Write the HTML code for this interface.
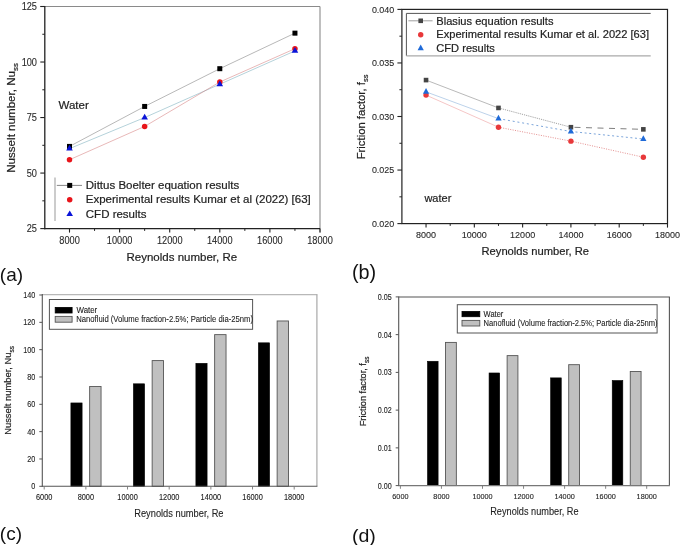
<!DOCTYPE html>
<html><head><meta charset="utf-8"><style>
html,body{margin:0;padding:0;background:#fff;}
body{width:685px;height:545px;overflow:hidden;}
svg{display:block;font-family:"Liberation Sans",sans-serif;filter:blur(0.4px);}
text{stroke:#222;stroke-width:0.2px;}
text.pl{stroke:none;}
text.sm{stroke-width:0.08px;}
text.md{stroke-width:0.1px;}
</style></head><body>
<svg width="685" height="545" viewBox="0 0 685 545" font-family="Liberation Sans, sans-serif">
<rect width="685" height="545" fill="#fff"/>
<line x1="40.30" y1="6.50" x2="320.00" y2="6.50" stroke="#8a8a8a" stroke-width="1.1" />
<line x1="320.00" y1="6.50" x2="320.00" y2="232.60" stroke="#8a8a8a" stroke-width="1.1" />
<polyline points="69.50,146.42 144.65,106.44 219.80,68.69 294.95,33.15" fill="none" stroke="#707070" stroke-width="0.5"/>
<polyline points="69.50,148.64 144.65,117.55 219.80,84.23 294.95,50.92" fill="none" stroke="#6aa4b4" stroke-width="0.5"/>
<polyline points="69.50,159.75 144.65,126.43 219.80,82.01 294.95,48.70" fill="none" stroke="#d07070" stroke-width="0.5"/>
<rect x="67.00" y="143.92" width="5.00" height="5.00" fill="#000" stroke="none" stroke-width="1"/>
<rect x="142.15" y="103.94" width="5.00" height="5.00" fill="#000" stroke="none" stroke-width="1"/>
<rect x="217.30" y="66.19" width="5.00" height="5.00" fill="#000" stroke="none" stroke-width="1"/>
<rect x="292.45" y="30.65" width="5.00" height="5.00" fill="#000" stroke="none" stroke-width="1"/>
<circle cx="69.50" cy="159.75" r="2.75" fill="#e8141a"/>
<circle cx="144.65" cy="126.43" r="2.75" fill="#e8141a"/>
<circle cx="219.80" cy="82.01" r="2.75" fill="#e8141a"/>
<circle cx="294.95" cy="48.70" r="2.75" fill="#e8141a"/>
<path d="M69.50,144.84 L72.80,150.54 L66.20,150.54 Z" fill="#0a14d8"/>
<path d="M144.65,113.75 L147.95,119.45 L141.35,119.45 Z" fill="#0a14d8"/>
<path d="M219.80,80.43 L223.10,86.13 L216.50,86.13 Z" fill="#0a14d8"/>
<path d="M294.95,47.12 L298.25,52.82 L291.65,52.82 Z" fill="#0a14d8"/>
<line x1="44.80" y1="6.00" x2="44.80" y2="229.20" stroke="#222" stroke-width="1.3" />
<line x1="44.20" y1="228.60" x2="320.00" y2="228.60" stroke="#222" stroke-width="1.3" />
<line x1="40.30" y1="228.60" x2="44.80" y2="228.60" stroke="#222" stroke-width="1.1" />
<text class="md" transform="translate(37.00,232.20) scale(0.94,1.03)" font-size="9.8" text-anchor="end" fill="#2a2a2a">25</text>
<line x1="40.30" y1="173.07" x2="44.80" y2="173.07" stroke="#222" stroke-width="1.1" />
<text class="md" transform="translate(37.00,176.67) scale(0.94,1.03)" font-size="9.8" text-anchor="end" fill="#2a2a2a">50</text>
<line x1="40.30" y1="117.55" x2="44.80" y2="117.55" stroke="#222" stroke-width="1.1" />
<text class="md" transform="translate(37.00,121.15) scale(0.94,1.03)" font-size="9.8" text-anchor="end" fill="#2a2a2a">75</text>
<line x1="40.30" y1="62.02" x2="44.80" y2="62.02" stroke="#222" stroke-width="1.1" />
<text class="md" transform="translate(37.00,65.62) scale(0.94,1.03)" font-size="9.8" text-anchor="end" fill="#2a2a2a">100</text>
<line x1="40.30" y1="6.50" x2="44.80" y2="6.50" stroke="#222" stroke-width="1.1" />
<text class="md" transform="translate(37.00,10.10) scale(0.94,1.03)" font-size="9.8" text-anchor="end" fill="#2a2a2a">125</text>
<line x1="42.30" y1="200.84" x2="44.80" y2="200.84" stroke="#222" stroke-width="1" />
<line x1="42.30" y1="145.31" x2="44.80" y2="145.31" stroke="#222" stroke-width="1" />
<line x1="42.30" y1="89.79" x2="44.80" y2="89.79" stroke="#222" stroke-width="1" />
<line x1="42.30" y1="34.26" x2="44.80" y2="34.26" stroke="#222" stroke-width="1" />
<line x1="69.50" y1="228.60" x2="69.50" y2="232.60" stroke="#222" stroke-width="1.1" />
<text class="md" transform="translate(69.50,243.70) scale(0.94,1.03)" font-size="9.8" text-anchor="middle" fill="#2a2a2a">8000</text>
<line x1="119.60" y1="228.60" x2="119.60" y2="232.60" stroke="#222" stroke-width="1.1" />
<text class="md" transform="translate(119.60,243.70) scale(0.94,1.03)" font-size="9.8" text-anchor="middle" fill="#2a2a2a">10000</text>
<line x1="169.70" y1="228.60" x2="169.70" y2="232.60" stroke="#222" stroke-width="1.1" />
<text class="md" transform="translate(169.70,243.70) scale(0.94,1.03)" font-size="9.8" text-anchor="middle" fill="#2a2a2a">12000</text>
<line x1="219.80" y1="228.60" x2="219.80" y2="232.60" stroke="#222" stroke-width="1.1" />
<text class="md" transform="translate(219.80,243.70) scale(0.94,1.03)" font-size="9.8" text-anchor="middle" fill="#2a2a2a">14000</text>
<line x1="269.90" y1="228.60" x2="269.90" y2="232.60" stroke="#222" stroke-width="1.1" />
<text class="md" transform="translate(269.90,243.70) scale(0.94,1.03)" font-size="9.8" text-anchor="middle" fill="#2a2a2a">16000</text>
<line x1="320.00" y1="228.60" x2="320.00" y2="232.60" stroke="#222" stroke-width="1.1" />
<text class="md" transform="translate(320.00,243.70) scale(0.94,1.03)" font-size="9.8" text-anchor="middle" fill="#2a2a2a">18000</text>
<line x1="94.55" y1="228.60" x2="94.55" y2="230.90" stroke="#222" stroke-width="1" />
<line x1="144.65" y1="228.60" x2="144.65" y2="230.90" stroke="#222" stroke-width="1" />
<line x1="194.75" y1="228.60" x2="194.75" y2="230.90" stroke="#222" stroke-width="1" />
<line x1="244.85" y1="228.60" x2="244.85" y2="230.90" stroke="#222" stroke-width="1" />
<line x1="294.95" y1="228.60" x2="294.95" y2="230.90" stroke="#222" stroke-width="1" />
<text transform="translate(126.50,261.00) scale(1.0,1.0)" font-size="11.5" text-anchor="start" fill="#222">Reynolds number, Re</text>
<text transform="translate(15.2,172.8) rotate(-90) scale(1,1.0)" font-size="11.6" fill="#222">Nusselt number, Nu<tspan font-size="7.8" dy="3">ss</tspan></text>
<text transform="translate(58.50,108.70) scale(1.0,1.0)" font-size="11.5" text-anchor="start" fill="#222">Water</text>
<line x1="55.00" y1="177.50" x2="55.00" y2="221.00" stroke="#aaa" stroke-width="1.2" />
<line x1="56.80" y1="185.40" x2="82.00" y2="185.40" stroke="#555" stroke-width="0.7" />
<rect x="67.20" y="182.90" width="5.00" height="5.00" fill="#000" stroke="none" stroke-width="1"/>
<circle cx="69.70" cy="199.70" r="2.75" fill="#e8141a"/>
<path d="M69.70,210.40 L73.00,216.10 L66.40,216.10 Z" fill="#0a14d8"/>
<text transform="translate(85.80,188.90) scale(1.0,1.0)" font-size="11.5" text-anchor="start" fill="#222">Dittus Boelter equation results</text>
<text transform="translate(85.80,203.20) scale(1.0,1.0)" font-size="11.5" text-anchor="start" fill="#222">Experimental results Kumar et al (2022) [63]</text>
<text transform="translate(85.80,217.60) scale(1.0,1.0)" font-size="11.5" text-anchor="start" fill="#222">CFD results</text>
<text class="pl" transform="translate(-0.20,280.60) scale(1.0,1.0)" font-size="19" text-anchor="start" fill="#111">(a)</text>
<line x1="426.04" y1="80.09" x2="498.48" y2="107.93" stroke="#8a8a8a" stroke-width="0.6"/>
<line x1="498.48" y1="107.93" x2="570.91" y2="127.21" stroke="#7a7a7a" stroke-width="0.7" stroke-dasharray="1.2,1"/>
<line x1="570.91" y1="127.21" x2="643.35" y2="129.35" stroke="#707070" stroke-width="0.9" stroke-dasharray="6,5.5" stroke-dashoffset="7.9"/>
<line x1="426.04" y1="91.87" x2="498.48" y2="118.64" stroke="#8fb4dc" stroke-width="0.6"/>
<line x1="498.48" y1="118.64" x2="570.91" y2="131.49" stroke="#5a8ed0" stroke-width="0.8" stroke-dasharray="2,2.8"/>
<line x1="570.91" y1="131.49" x2="643.35" y2="138.99" stroke="#5a8ed0" stroke-width="0.8" stroke-dasharray="2,2.6"/>
<line x1="426.04" y1="95.08" x2="498.48" y2="127.21" stroke="#eea0a0" stroke-width="0.6"/>
<line x1="498.48" y1="127.21" x2="570.91" y2="141.13" stroke="#d86060" stroke-width="0.7" stroke-dasharray="1,1.4"/>
<line x1="570.91" y1="141.13" x2="643.35" y2="157.20" stroke="#d86060" stroke-width="0.7" stroke-dasharray="1,1.4"/>
<rect x="423.74" y="77.79" width="4.60" height="4.60" fill="#444" stroke="none" stroke-width="1"/>
<rect x="496.18" y="105.63" width="4.60" height="4.60" fill="#444" stroke="none" stroke-width="1"/>
<rect x="568.62" y="124.91" width="4.60" height="4.60" fill="#444" stroke="none" stroke-width="1"/>
<rect x="641.05" y="127.05" width="4.60" height="4.60" fill="#444" stroke="none" stroke-width="1"/>
<circle cx="426.04" cy="95.08" r="2.7" fill="#e8383a"/>
<circle cx="498.48" cy="127.21" r="2.7" fill="#e8383a"/>
<circle cx="570.91" cy="141.13" r="2.7" fill="#e8383a"/>
<circle cx="643.35" cy="157.20" r="2.7" fill="#e8383a"/>
<path d="M426.04,88.07 L429.14,93.77 L422.94,93.77 Z" fill="#1f6ad8"/>
<path d="M498.48,114.84 L501.58,120.54 L495.38,120.54 Z" fill="#1f6ad8"/>
<path d="M570.91,127.69 L574.01,133.39 L567.81,133.39 Z" fill="#1f6ad8"/>
<path d="M643.35,135.19 L646.45,140.89 L640.25,140.89 Z" fill="#1f6ad8"/>
<rect x="401.9" y="9.4" width="265.6" height="214.2" fill="none" stroke="#222" stroke-width="1.2"/>
<line x1="397.40" y1="223.60" x2="401.90" y2="223.60" stroke="#222" stroke-width="1.1" />
<text class="md" transform="translate(394.20,226.70) scale(0.95,1.03)" font-size="9.4" text-anchor="end" fill="#2a2a2a">0.020</text>
<line x1="397.40" y1="170.05" x2="401.90" y2="170.05" stroke="#222" stroke-width="1.1" />
<text class="md" transform="translate(394.20,173.15) scale(0.95,1.03)" font-size="9.4" text-anchor="end" fill="#2a2a2a">0.025</text>
<line x1="397.40" y1="116.50" x2="401.90" y2="116.50" stroke="#222" stroke-width="1.1" />
<text class="md" transform="translate(394.20,119.60) scale(0.95,1.03)" font-size="9.4" text-anchor="end" fill="#2a2a2a">0.030</text>
<line x1="397.40" y1="62.95" x2="401.90" y2="62.95" stroke="#222" stroke-width="1.1" />
<text class="md" transform="translate(394.20,66.05) scale(0.95,1.03)" font-size="9.4" text-anchor="end" fill="#2a2a2a">0.035</text>
<line x1="397.40" y1="9.40" x2="401.90" y2="9.40" stroke="#222" stroke-width="1.1" />
<text class="md" transform="translate(394.20,12.50) scale(0.95,1.03)" font-size="9.4" text-anchor="end" fill="#2a2a2a">0.040</text>
<line x1="399.40" y1="196.83" x2="401.90" y2="196.83" stroke="#222" stroke-width="1" />
<line x1="399.40" y1="143.28" x2="401.90" y2="143.28" stroke="#222" stroke-width="1" />
<line x1="399.40" y1="89.72" x2="401.90" y2="89.72" stroke="#222" stroke-width="1" />
<line x1="399.40" y1="36.18" x2="401.90" y2="36.18" stroke="#222" stroke-width="1" />
<line x1="426.04" y1="223.60" x2="426.04" y2="227.60" stroke="#222" stroke-width="1.1" />
<text class="md" transform="translate(426.04,237.90) scale(0.96,1.03)" font-size="9.4" text-anchor="middle" fill="#2a2a2a">8000</text>
<line x1="474.33" y1="223.60" x2="474.33" y2="227.60" stroke="#222" stroke-width="1.1" />
<text class="md" transform="translate(474.33,237.90) scale(0.96,1.03)" font-size="9.4" text-anchor="middle" fill="#2a2a2a">10000</text>
<line x1="522.62" y1="223.60" x2="522.62" y2="227.60" stroke="#222" stroke-width="1.1" />
<text class="md" transform="translate(522.62,237.90) scale(0.96,1.03)" font-size="9.4" text-anchor="middle" fill="#2a2a2a">12000</text>
<line x1="570.91" y1="223.60" x2="570.91" y2="227.60" stroke="#222" stroke-width="1.1" />
<text class="md" transform="translate(570.91,237.90) scale(0.96,1.03)" font-size="9.4" text-anchor="middle" fill="#2a2a2a">14000</text>
<line x1="619.20" y1="223.60" x2="619.20" y2="227.60" stroke="#222" stroke-width="1.1" />
<text class="md" transform="translate(619.20,237.90) scale(0.96,1.03)" font-size="9.4" text-anchor="middle" fill="#2a2a2a">16000</text>
<line x1="667.49" y1="223.60" x2="667.49" y2="227.60" stroke="#222" stroke-width="1.1" />
<text class="md" transform="translate(667.49,237.90) scale(0.96,1.03)" font-size="9.4" text-anchor="middle" fill="#2a2a2a">18000</text>
<line x1="450.19" y1="223.60" x2="450.19" y2="225.90" stroke="#222" stroke-width="1" />
<line x1="498.48" y1="223.60" x2="498.48" y2="225.90" stroke="#222" stroke-width="1" />
<line x1="546.77" y1="223.60" x2="546.77" y2="225.90" stroke="#222" stroke-width="1" />
<line x1="595.06" y1="223.60" x2="595.06" y2="225.90" stroke="#222" stroke-width="1" />
<line x1="643.35" y1="223.60" x2="643.35" y2="225.90" stroke="#222" stroke-width="1" />
<text transform="translate(481.50,254.80) scale(1.0,1.0)" font-size="11.2" text-anchor="start" fill="#222">Reynolds number, Re</text>
<text transform="translate(365.2,159.3) rotate(-90) scale(1,1.0)" font-size="11.3" fill="#222">Friction factor, f<tspan font-size="7.6" dy="3">ss</tspan></text>
<text transform="translate(424.40,201.90) scale(1.0,1.0)" font-size="11" text-anchor="start" fill="#222">water</text>
<line x1="406.40" y1="13.40" x2="650.70" y2="13.40" stroke="#555" stroke-width="1" />
<line x1="406.40" y1="13.40" x2="406.40" y2="55.80" stroke="#555" stroke-width="1" />
<line x1="406.40" y1="55.80" x2="650.70" y2="55.80" stroke="#aaa" stroke-width="1.2" />
<line x1="408.40" y1="20.80" x2="432.60" y2="20.80" stroke="#888" stroke-width="0.8" />
<rect x="418.40" y="18.50" width="4.60" height="4.60" fill="#444" stroke="none" stroke-width="1"/>
<circle cx="420.70" cy="34.80" r="2.7" fill="#e8383a"/>
<path d="M420.70,44.57 L423.80,50.17 L417.60,50.17 Z" fill="#1f6ad8"/>
<text transform="translate(436.30,24.60) scale(1.0,1.0)" font-size="11.1" text-anchor="start" fill="#222">Blasius equation results</text>
<text transform="translate(436.30,38.20) scale(1.0,1.0)" font-size="11.1" text-anchor="start" fill="#222">Experimental results Kumar et al. 2022 [63]</text>
<text transform="translate(436.30,51.60) scale(1.0,1.0)" font-size="11.1" text-anchor="start" fill="#222">CFD results</text>
<text class="pl" transform="translate(351.90,278.60) scale(1.0,1.0)" font-size="19.8" text-anchor="start" fill="#111">(b)</text>
<line x1="42.30" y1="294.60" x2="317.40" y2="294.60" stroke="#b8b8b8" stroke-width="1.1" />
<line x1="316.90" y1="294.60" x2="316.90" y2="486.30" stroke="#a8a8a8" stroke-width="1.2" />
<rect x="70.90" y="402.95" width="11.20" height="83.35" fill="#000" stroke="#000" stroke-width="0.6"/>
<rect x="133.40" y="383.82" width="11.20" height="102.48" fill="#000" stroke="#000" stroke-width="0.6"/>
<rect x="195.89" y="363.32" width="11.20" height="122.98" fill="#000" stroke="#000" stroke-width="0.6"/>
<rect x="258.39" y="342.83" width="11.20" height="143.47" fill="#000" stroke="#000" stroke-width="0.6"/>
<rect x="89.65" y="386.55" width="11.40" height="99.75" fill="#c0c0c0" stroke="#555" stroke-width="0.9"/>
<rect x="152.15" y="360.59" width="11.40" height="125.71" fill="#c0c0c0" stroke="#555" stroke-width="0.9"/>
<rect x="214.64" y="334.63" width="11.40" height="151.67" fill="#c0c0c0" stroke="#555" stroke-width="0.9"/>
<rect x="277.14" y="320.97" width="11.40" height="165.33" fill="#c0c0c0" stroke="#555" stroke-width="0.9"/>
<line x1="42.30" y1="294.10" x2="42.30" y2="486.80" stroke="#555" stroke-width="1.1" />
<line x1="41.80" y1="486.30" x2="317.40" y2="486.30" stroke="#555" stroke-width="1.1" />
<line x1="39.30" y1="486.30" x2="42.30" y2="486.30" stroke="#555" stroke-width="1" />
<text class="md" transform="translate(35.30,489.40) scale(0.93,1.1)" font-size="7.8" text-anchor="end" fill="#222">0</text>
<line x1="39.30" y1="458.97" x2="42.30" y2="458.97" stroke="#555" stroke-width="1" />
<text class="md" transform="translate(35.30,462.07) scale(0.93,1.1)" font-size="7.8" text-anchor="end" fill="#222">20</text>
<line x1="39.30" y1="431.64" x2="42.30" y2="431.64" stroke="#555" stroke-width="1" />
<text class="md" transform="translate(35.30,434.74) scale(0.93,1.1)" font-size="7.8" text-anchor="end" fill="#222">40</text>
<line x1="39.30" y1="404.32" x2="42.30" y2="404.32" stroke="#555" stroke-width="1" />
<text class="md" transform="translate(35.30,407.42) scale(0.93,1.1)" font-size="7.8" text-anchor="end" fill="#222">60</text>
<line x1="39.30" y1="376.99" x2="42.30" y2="376.99" stroke="#555" stroke-width="1" />
<text class="md" transform="translate(35.30,380.09) scale(0.93,1.1)" font-size="7.8" text-anchor="end" fill="#222">80</text>
<line x1="39.30" y1="349.66" x2="42.30" y2="349.66" stroke="#555" stroke-width="1" />
<text class="md" transform="translate(35.30,352.76) scale(0.93,1.1)" font-size="7.8" text-anchor="end" fill="#222">100</text>
<line x1="39.30" y1="322.33" x2="42.30" y2="322.33" stroke="#555" stroke-width="1" />
<text class="md" transform="translate(35.30,325.43) scale(0.93,1.1)" font-size="7.8" text-anchor="end" fill="#222">120</text>
<line x1="39.30" y1="295.00" x2="42.30" y2="295.00" stroke="#555" stroke-width="1" />
<text class="md" transform="translate(35.30,298.10) scale(0.93,1.1)" font-size="7.8" text-anchor="end" fill="#222">140</text>
<line x1="44.20" y1="486.30" x2="44.20" y2="489.50" stroke="#777" stroke-width="0.9" />
<text class="md" transform="translate(44.20,499.80) scale(0.96,1.1)" font-size="7.7" text-anchor="middle" fill="#222">6000</text>
<line x1="85.87" y1="486.30" x2="85.87" y2="489.50" stroke="#777" stroke-width="0.9" />
<text class="md" transform="translate(85.87,499.80) scale(0.96,1.1)" font-size="7.7" text-anchor="middle" fill="#222">8000</text>
<line x1="127.53" y1="486.30" x2="127.53" y2="489.50" stroke="#777" stroke-width="0.9" />
<text class="md" transform="translate(127.53,499.80) scale(0.96,1.1)" font-size="7.7" text-anchor="middle" fill="#222">10000</text>
<line x1="169.20" y1="486.30" x2="169.20" y2="489.50" stroke="#777" stroke-width="0.9" />
<text class="md" transform="translate(169.20,499.80) scale(0.96,1.1)" font-size="7.7" text-anchor="middle" fill="#222">12000</text>
<line x1="210.86" y1="486.30" x2="210.86" y2="489.50" stroke="#777" stroke-width="0.9" />
<text class="md" transform="translate(210.86,499.80) scale(0.96,1.1)" font-size="7.7" text-anchor="middle" fill="#222">14000</text>
<line x1="252.53" y1="486.30" x2="252.53" y2="489.50" stroke="#777" stroke-width="0.9" />
<text class="md" transform="translate(252.53,499.80) scale(0.96,1.1)" font-size="7.7" text-anchor="middle" fill="#222">16000</text>
<line x1="294.20" y1="486.30" x2="294.20" y2="489.50" stroke="#777" stroke-width="0.9" />
<text class="md" transform="translate(294.20,499.80) scale(0.96,1.1)" font-size="7.7" text-anchor="middle" fill="#222">18000</text>
<text class="sm" transform="translate(134.20,517.00) scale(1.0,1.1)" font-size="9.3" text-anchor="start" fill="#222">Reynolds number, Re</text>
<text transform="translate(10.9,434.8) rotate(-90) scale(1,1.0)" font-size="9.4" fill="#222">Nusselt number, Nu<tspan font-size="6.6" dy="2.6">ss</tspan></text>
<rect x="49.40" y="299.50" width="203.20" height="29.80" fill="#fff" stroke="#555" stroke-width="1"/>
<rect x="55.20" y="307.40" width="16.90" height="5.60" fill="#000" stroke="#000" stroke-width="0.8"/>
<rect x="55.20" y="316.40" width="16.90" height="5.80" fill="#c0c0c0" stroke="#555" stroke-width="0.9"/>
<text class="md" transform="translate(76.50,313.00) scale(1.0,1.07)" font-size="7.9" text-anchor="start" fill="#222">Water</text>
<text class="sm" transform="translate(76.20,322.30) scale(1.0,1.1)" font-size="7.7" text-anchor="start" fill="#222">Nanofluid (Volume fraction-2.5%; Particle dia-25nm)</text>
<text class="pl" transform="translate(-0.20,540.40) scale(1.0,1.0)" font-size="19" text-anchor="start" fill="#111">(c)</text>
<line x1="398.70" y1="297.00" x2="669.90" y2="297.00" stroke="#8c8c8c" stroke-width="1.4" />
<line x1="669.40" y1="297.00" x2="669.40" y2="485.60" stroke="#555" stroke-width="1.1" />
<rect x="427.50" y="361.28" width="10.60" height="124.32" fill="#000" stroke="#000" stroke-width="0.6"/>
<rect x="489.07" y="372.98" width="10.60" height="112.62" fill="#000" stroke="#000" stroke-width="0.6"/>
<rect x="550.65" y="377.89" width="10.60" height="107.71" fill="#000" stroke="#000" stroke-width="0.6"/>
<rect x="612.22" y="380.53" width="10.60" height="105.07" fill="#000" stroke="#000" stroke-width="0.6"/>
<rect x="445.55" y="342.41" width="10.80" height="143.19" fill="#c0c0c0" stroke="#555" stroke-width="0.9"/>
<rect x="507.12" y="355.62" width="10.80" height="129.98" fill="#c0c0c0" stroke="#555" stroke-width="0.9"/>
<rect x="568.70" y="364.68" width="10.80" height="120.92" fill="#c0c0c0" stroke="#555" stroke-width="0.9"/>
<rect x="630.27" y="371.47" width="10.80" height="114.13" fill="#c0c0c0" stroke="#555" stroke-width="0.9"/>
<line x1="398.70" y1="296.50" x2="398.70" y2="486.10" stroke="#555" stroke-width="1.1" />
<line x1="398.20" y1="485.60" x2="669.90" y2="485.60" stroke="#777" stroke-width="1.1" />
<line x1="395.70" y1="485.60" x2="398.70" y2="485.60" stroke="#555" stroke-width="1" />
<text class="md" transform="translate(391.70,488.50) scale(0.95,1.1)" font-size="7.5" text-anchor="end" fill="#222">0.00</text>
<line x1="395.70" y1="447.86" x2="398.70" y2="447.86" stroke="#555" stroke-width="1" />
<text class="md" transform="translate(391.70,450.76) scale(0.95,1.1)" font-size="7.5" text-anchor="end" fill="#222">0.01</text>
<line x1="395.70" y1="410.12" x2="398.70" y2="410.12" stroke="#555" stroke-width="1" />
<text class="md" transform="translate(391.70,413.02) scale(0.95,1.1)" font-size="7.5" text-anchor="end" fill="#222">0.02</text>
<line x1="395.70" y1="372.38" x2="398.70" y2="372.38" stroke="#555" stroke-width="1" />
<text class="md" transform="translate(391.70,375.28) scale(0.95,1.1)" font-size="7.5" text-anchor="end" fill="#222">0.03</text>
<line x1="395.70" y1="334.64" x2="398.70" y2="334.64" stroke="#555" stroke-width="1" />
<text class="md" transform="translate(391.70,337.54) scale(0.95,1.1)" font-size="7.5" text-anchor="end" fill="#222">0.04</text>
<line x1="395.70" y1="296.90" x2="398.70" y2="296.90" stroke="#555" stroke-width="1" />
<text class="md" transform="translate(391.70,299.80) scale(0.95,1.1)" font-size="7.5" text-anchor="end" fill="#222">0.05</text>
<line x1="400.40" y1="485.60" x2="400.40" y2="488.80" stroke="#777" stroke-width="0.9" />
<text class="md" transform="translate(400.40,498.50) scale(1.0,1.1)" font-size="7.3" text-anchor="middle" fill="#222">6000</text>
<line x1="441.45" y1="485.60" x2="441.45" y2="488.80" stroke="#777" stroke-width="0.9" />
<text class="md" transform="translate(441.45,498.50) scale(1.0,1.1)" font-size="7.3" text-anchor="middle" fill="#222">8000</text>
<line x1="482.50" y1="485.60" x2="482.50" y2="488.80" stroke="#777" stroke-width="0.9" />
<text class="md" transform="translate(482.50,498.50) scale(1.0,1.1)" font-size="7.3" text-anchor="middle" fill="#222">10000</text>
<line x1="523.55" y1="485.60" x2="523.55" y2="488.80" stroke="#777" stroke-width="0.9" />
<text class="md" transform="translate(523.55,498.50) scale(1.0,1.1)" font-size="7.3" text-anchor="middle" fill="#222">12000</text>
<line x1="564.60" y1="485.60" x2="564.60" y2="488.80" stroke="#777" stroke-width="0.9" />
<text class="md" transform="translate(564.60,498.50) scale(1.0,1.1)" font-size="7.3" text-anchor="middle" fill="#222">14000</text>
<line x1="605.65" y1="485.60" x2="605.65" y2="488.80" stroke="#777" stroke-width="0.9" />
<text class="md" transform="translate(605.65,498.50) scale(1.0,1.1)" font-size="7.3" text-anchor="middle" fill="#222">16000</text>
<line x1="646.70" y1="485.60" x2="646.70" y2="488.80" stroke="#777" stroke-width="0.9" />
<text class="md" transform="translate(646.70,498.50) scale(1.0,1.1)" font-size="7.3" text-anchor="middle" fill="#222">18000</text>
<text class="sm" transform="translate(490.20,515.00) scale(1.0,1.1)" font-size="9.2" text-anchor="start" fill="#222">Reynolds number, Re</text>
<text transform="translate(366.2,426.3) rotate(-90) scale(1,1.0)" font-size="9.25" fill="#222">Friction factor, f<tspan font-size="6.5" dy="2.6">ss</tspan></text>
<rect x="457.30" y="304.70" width="199.80" height="28.30" fill="#fff" stroke="#555" stroke-width="1"/>
<rect x="462.00" y="311.40" width="17.80" height="5.30" fill="#000" stroke="#000" stroke-width="0.8"/>
<rect x="462.00" y="320.40" width="17.80" height="5.60" fill="#c0c0c0" stroke="#555" stroke-width="0.9"/>
<text class="md" transform="translate(483.60,316.70) scale(1.0,1.1)" font-size="7.5" text-anchor="start" fill="#222">Water</text>
<text class="sm" transform="translate(483.60,326.00) scale(1.01,1.1)" font-size="7.5" text-anchor="start" fill="#222">Nanofluid (Volume fraction-2.5%; Particle dia-25nm)</text>
<text class="pl" transform="translate(351.90,541.80) scale(1.03,1.0)" font-size="19" text-anchor="start" fill="#111">(d)</text>
</svg>
</body></html>
